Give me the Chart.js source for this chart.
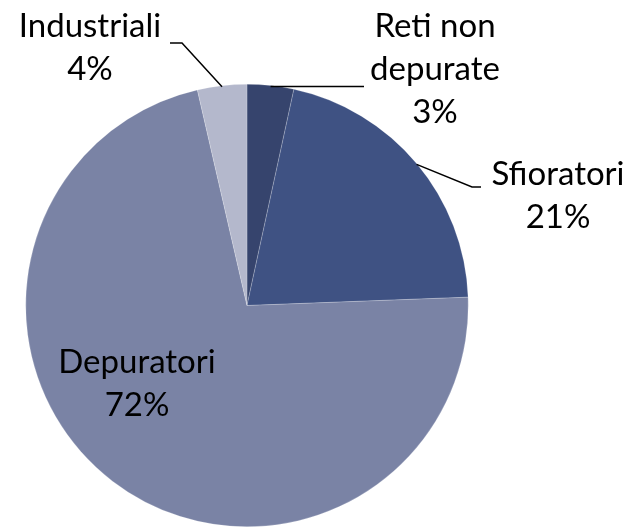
<!DOCTYPE html>
<html lang="it">
<head>
    <meta charset="UTF-8">
    <title>Scarichi</title>
    <script src="https://cdn.jsdelivr.net/npm/chart.js"></script>
    <style>
        body {
            margin: 0;
            padding: 0;
            background: white;
        }

        #wrap {
            width: 635px;
            height: 527px;
        }
    </style>
</head>
<body>
    <div id="wrap"><canvas id="pie"></canvas></div>

    <script>
        // Data (clockwise from 12 o'clock)
        const categories = ['Reti non depurate', 'Sfioratori', 'Depuratori', 'Industriali'];
        const labelLines = [['Reti non', 'depurate'], ['Sfioratori'], ['Depuratori'], ['Industriali']];
        const values = [3.4, 21.0, 72.0, 3.6];
        const colors = ['#36446d', '#3f5283', '#7a83a5', '#b4b8cc'];

        // label placement: text centre x, first baseline y, leader line (null = none)
        const labelPos = [
            { x: 435, y: 37, line: [[364, null]] },
            { x: 558, y: 185, line: [[472, 187], [481, 187]] },
            { x: 137, y: 373, line: null },
            { x: 90, y: 37, line: [[182, 43], [170, 43]] }
        ];

        const labelPlugin = {
            id: 'pieLabels',
            afterDatasetsDraw(chart) {
                const ctx = chart.ctx;
                const meta = chart.getDatasetMeta(0);
                const total = values.reduce((a, b) => a + b, 0);
                ctx.save();
                ctx.font = '33px Lato';
                ctx.fillStyle = '#000';
                ctx.textAlign = 'center';
                ctx.textBaseline = 'alphabetic';
                meta.data.forEach((arc, i) => {
                    const p = labelPos[i];
                    const lines = labelLines[i].concat([Math.round(values[i] / total * 100) + '%']);
                    lines.forEach((t, j) => ctx.fillText(t, p.x, p.y + j * 43));

                    if (p.line) {
                        // start the leader on the slice edge at its mid angle
                        const mid = (arc.startAngle + arc.endAngle) / 2;
                        const sx = arc.x + Math.cos(mid) * arc.outerRadius;
                        const sy = arc.y + Math.sin(mid) * arc.outerRadius + 1;
                        ctx.beginPath();
                        ctx.strokeStyle = '#000';
                        ctx.lineWidth = 1.5;
                        ctx.moveTo(sx, sy);
                        p.line.forEach(pt => ctx.lineTo(pt[0], pt[1] === null ? sy : pt[1]));
                        ctx.stroke();
                    }
                });
                ctx.restore();
            }
        };

        const ctx = document.getElementById('pie').getContext('2d');
        const chart = new Chart(ctx, {
            type: 'pie',
            data: {
                labels: categories,
                datasets: [{
                    data: values,
                    backgroundColor: colors,
                    borderColor: 'rgba(255, 255, 255, 0.4)',
                    borderWidth: 0.5,
                }],
            },
            options: {
                responsive: true,
                maintainAspectRatio: false,
                animation: false,
                layout: {
                    padding: { left: 25, top: 84, right: 166, bottom: 0 }
                },
                plugins: {
                    legend: { display: false },
                    tooltip: { enabled: false },
                },
            },
            plugins: [labelPlugin],
        });
    </script>
</body>
</html>
